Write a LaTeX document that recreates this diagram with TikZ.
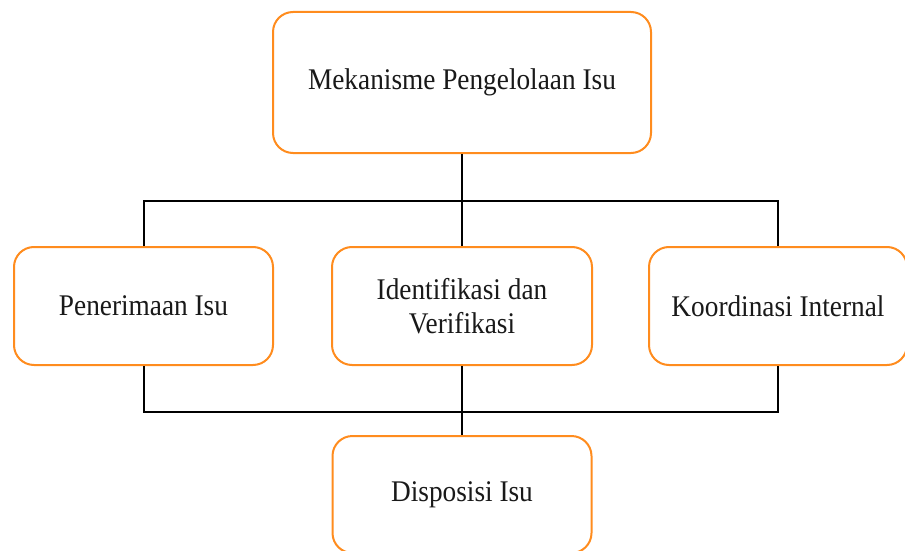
\documentclass[tikz,border=0pt]{standalone}
\usepackage{fontspec}
\setmainfont[FakeStretch=0.91]{Liberation Serif}
\definecolor{boxorange}{RGB}{255,140,30}
\definecolor{txt}{RGB}{25,25,25}
\tikzset{
  box/.style={draw=boxorange, line width=2pt, rounded corners=20pt, fill=white,
    align=center, text=txt, inner sep=0pt,
    font=\fontsize{30}{34}\selectfont},
  conn/.style={draw=black, line width=2pt}
}
\begin{document}
\begin{tikzpicture}[x=1pt,y=-1pt]
\useasboundingbox (0,0) rectangle (905,551);
\clip (0,0) rectangle (905,551);
\coordinate (busT) at (462,201);
\coordinate (busB) at (462,412);
\node[box, minimum width=378pt, minimum height=141pt] (top) at (462,82.5) {Mekanisme Pengelolaan Isu};
\node[box, minimum width=259pt, minimum height=118pt] (left) at (143.5,306) {Penerimaan Isu};
\node[box, minimum width=260pt, minimum height=118pt] (mid) at (462,306) {Identifikasi dan\\Verifikasi};
\node[box, minimum width=258pt, minimum height=118pt] (right) at (778,306) {Koordinasi Internal};
\node[box, minimum width=259pt, minimum height=117pt] (bot) at (462,494.5) {Disposisi Isu};
\draw[conn] (top.south) -- (mid.north);
\draw[conn] (left.north) -- (left.north |- busT) -| (right.north);
\draw[conn] (left.south) -- (left.south |- busB) -| (right.south);
\draw[conn] (mid.south) -- (bot.north);
\end{tikzpicture}
\end{document}
